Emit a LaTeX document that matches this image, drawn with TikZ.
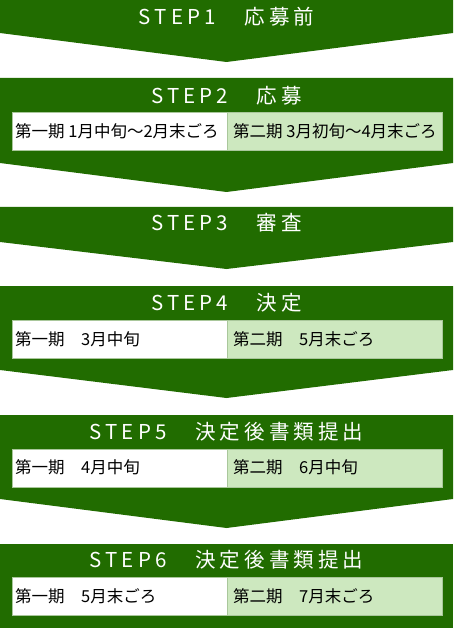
\documentclass[tikz,border=0pt]{standalone}
\usepackage{fontspec}
\setmainfont{Noto Sans CJK JP}
\newfontfamily\titlefont[LetterSpace=20]{Noto Sans CJK JP}
\definecolor{stepgreen}{HTML}{216C00}
\definecolor{lightgreen}{HTML}{CDE8BF}
\definecolor{boxborder}{HTML}{A9C79B}
\tikzset{
  steptitle/.style={text=white, font=\titlefont\fontsize{20.5}{22}\selectfont, inner sep=0pt},
  cellbase/.style={anchor=north west, draw=boxborder, line width=0.7pt, minimum height=38pt,
    minimum width=215pt, inner sep=0pt},
  cellA/.style={cellbase, fill=white},
  cellB/.style={cellbase, fill=lightgreen},
  celltext/.style={anchor=west, inner sep=0pt, font=\fontsize{16.5}{18}\selectfont},
}
\newcommand{\stepblock}[3]{% top, rect bottom, tip
  \fill[stepgreen] (0,#1) -- (453,#1) -- (453,#2) -- (226.5,#3) -- (0,#2) -- cycle;}
\newcommand{\cellrow}[4]{% name, top, text A, text B
  \node[cellA] (#1a) at (12,#2) {};
  \node[cellB] (#1b) at (227,#2) {};
  \node[celltext] (#1ta) at ([xshift=3pt,yshift=0.5pt]#1a.west) {#3};
  \node[celltext] (#1tb) at ([xshift=6pt,yshift=0.5pt]#1b.west) {#4};}
\begin{document}
\begin{tikzpicture}[x=1pt,y=-1pt]
\useasboundingbox (0,0) rectangle (453,628);
\fill[white] (0,0) rectangle (453,628);
\stepblock{0}{33}{62}
\stepblock{78}{163}{192}
\stepblock{207}{242}{269}
\stepblock{286}{370}{398}
\stepblock{415}{499}{528}
\fill[stepgreen] (0,544) rectangle (453,628);

\node[steptitle] (t1) at (226.5,17) {STEP1　応募前};
\node[steptitle] (t2) at (226.5,96) {STEP2　応募};
\node[steptitle] (t3) at (226.5,223) {STEP3　審査};
\node[steptitle] (t4) at (226.5,303) {STEP4　決定};
\node[steptitle] (t5) at (226.5,432) {STEP5　決定後書類提出};
\node[steptitle] (t6) at (226.5,560) {STEP6　決定後書類提出};

\cellrow{r2}{112}{第一期 1月中旬～2月末ごろ}{第二期 3月初旬～4月末ごろ}
\cellrow{r4}{320}{第一期　3月中旬}{第二期　5月末ごろ}
\cellrow{r5}{448.5}{第一期　4月中旬}{第二期　6月中旬}
\cellrow{r6}{577}{第一期　5月末ごろ}{第二期　7月末ごろ}
\end{tikzpicture}
\end{document}
